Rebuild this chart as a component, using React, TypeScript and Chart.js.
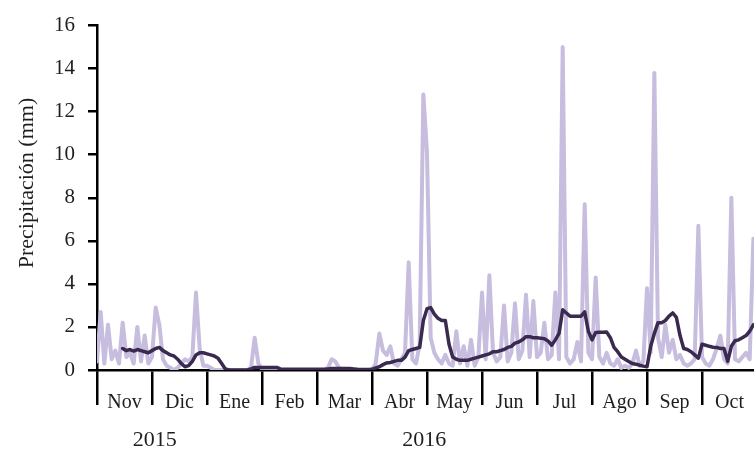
import React, { useEffect, useRef } from 'react';
import { Chart, registerables } from 'chart.js';

Chart.register(...registerables);

// Month labels and years
const meses = ['Nov', 'Dic', 'Ene', 'Feb', 'Mar', 'Abr', 'May', 'Jun', 'Jul', 'Ago', 'Sep', 'Oct'];
const anios = ['2015', '2016'];
const posAnios = [1.05, 5.95];
const tituloY = 'Precipitación (mm)';

// Daily precipitation (every ~2 days), per month
const lluviaNov = [0.4, 2.7, 0.3, 2.1, 0.5, 0.9, 0.3, 2.2, 0.6, 0.8, 0.3, 2.0, 0.4, 1.6, 0.3];
const lluviaDic = [0.6, 2.9, 2.1, 0.5, 0.2, 0.1, 0.0, 0.1, 0.3, 0.5, 0.4, 0.6, 3.6, 1.0, 0.2];
const lluviaEne = [0.2, 0.1, 0, 0, 0, 0, 0, 0, 0, 0, 0, 0, 0.1, 1.5, 0.3];
const lluviaFeb = [0.05, 0, 0, 0, 0, 0, 0, 0, 0, 0, 0, 0, 0, 0, 0];
const lluviaMar = [0, 0, 0, 0.1, 0.5, 0.4, 0.1, 0, 0, 0, 0, 0, 0, 0, 0];
const lluviaAbr = [0, 0.3, 1.7, 0.9, 0.7, 1.1, 0.3, 0.2, 0.5, 0.8, 5.0, 0.5, 0.3, 1.2, 12.8];
const lluviaMay = [10.1, 1.5, 0.8, 0.5, 0.3, 0.7, 0.3, 0.2, 1.8, 0.3, 1.1, 0.2, 1.4, 0.2, 0.6];
const lluviaJun = [3.6, 0.5, 4.4, 0.8, 0.4, 0.6, 3.0, 0.4, 0.8, 3.1, 0.5, 0.9, 3.5, 0.6, 3.2];
const lluviaJul = [0.6, 0.8, 2.2, 0.5, 0.7, 3.6, 0.5, 15.0, 0.6, 0.3, 0.5, 1.3, 0.4, 7.7, 0.8];
const lluviaAgo = [0.5, 4.3, 0.6, 0.3, 0.8, 0.3, 0.2, 0.5, 0.1, 0.2, 0.1, 0.3, 0.9, 0.2, 0.4];
const lluviaSep = [3.8, 0.8, 13.8, 1.5, 0.6, 2.1, 0.8, 1.4, 0.5, 0.7, 0.3, 0.2, 0.3, 0.5, 6.7];
const lluviaOct = [0.6, 0.3, 0.2, 0.5, 1.0, 1.6, 0.5, 0.3, 8.0, 0.5, 0.4, 0.6, 0.8, 0.5, 6.1];

// Moving average, per month
const mediaNov = [null, null, null, null, null, null, null, 1.0, 0.9, 0.95, 0.88, 0.95, 0.9, 0.85, 0.8];
const mediaDic = [0.9, 1.0, 1.05, 0.9, 0.8, 0.7, 0.65, 0.5, 0.3, 0.15, 0.2, 0.4, 0.7, 0.8, 0.8];
const mediaEne = [0.75, 0.7, 0.65, 0.55, 0.3, 0.05, 0.0, 0, 0, 0, 0, 0, 0.05, 0.12, 0.12];
const mediaFeb = [0.12, 0.12, 0.12, 0.12, 0.12, 0.05, 0.03, 0.03, 0.03, 0.03, 0.03, 0.03, 0.03, 0.03, 0.03];
const mediaMar = [0.03, 0.03, 0.03, 0.05, 0.07, 0.07, 0.07, 0.07, 0.07, 0.07, 0.05, 0.03, 0.02, 0.02, 0.02];
const mediaAbr = [0.03, 0.1, 0.15, 0.25, 0.33, 0.35, 0.4, 0.45, 0.45, 0.6, 0.9, 0.95, 1.0, 1.05, 2.3];
const mediaMay = [2.85, 2.9, 2.6, 2.4, 2.3, 2.3, 1.2, 0.6, 0.5, 0.45, 0.45, 0.45, 0.5, 0.55, 0.6];
const mediaJun = [0.65, 0.7, 0.75, 0.85, 0.85, 0.9, 0.95, 1.05, 1.1, 1.25, 1.3, 1.4, 1.55, 1.55, 1.5];
const mediaJul = [1.5, 1.48, 1.45, 1.35, 1.15, 1.4, 1.7, 2.8, 2.65, 2.5, 2.5, 2.5, 2.5, 2.7, 1.8];
const mediaAgo = [1.4, 1.74, 1.75, 1.75, 1.76, 1.5, 1.05, 0.85, 0.6, 0.5, 0.4, 0.3, 0.27, 0.22, 0.18];
const mediaSep = [0.15, 1.1, 1.7, 2.2, 2.2, 2.3, 2.5, 2.65, 2.45, 1.6, 1.0, 0.95, 0.85, 0.7, 0.55];
const mediaOct = [1.2, 1.15, 1.1, 1.06, 1.05, 1.0, 1.0, 0.4, 1.1, 1.36, 1.4, 1.5, 1.6, 1.8, 2.1];

const lluvia = [lluviaNov, lluviaDic, lluviaEne, lluviaFeb, lluviaMar, lluviaAbr, lluviaMay, lluviaJun, lluviaJul, lluviaAgo, lluviaSep, lluviaOct];
const media = [mediaNov, mediaDic, mediaEne, mediaFeb, mediaMar, mediaAbr, mediaMay, mediaJun, mediaJul, mediaAgo, mediaSep, mediaOct];

const toPoints = (series: (number | null)[][]) =>
  series.flatMap((arr, m) => arr.map((v, i) => ({ x: m + i / arr.length, y: v })));

const FONT = '"Liberation Serif", "Times New Roman", serif';
const TEXT = '#1e1e1e';

const textPlugin = {
  id: 'textos',
  afterDraw(chart: any) {
    const { ctx } = chart;
    const x = chart.scales.x;
    ctx.save();
    ctx.fillStyle = TEXT;
    ctx.textAlign = 'center';
    ctx.textBaseline = 'middle';
    ctx.font = `20px ${FONT}`;
    meses.forEach((m, i) => ctx.fillText(m, x.getPixelForValue(i + 0.5), 403));
    ctx.font = `22px ${FONT}`;
    anios.forEach((a, i) => ctx.fillText(a, x.getPixelForValue(posAnios[i]), 440));
    ctx.translate(27, 183);
    ctx.rotate(-Math.PI / 2);
    ctx.fillText(tituloY, 0, 0);
    ctx.restore();
  },
};

export default function App() {
  const ref = useRef<HTMLCanvasElement | null>(null);
  useEffect(() => {
    if (!ref.current) return;
    const chart = new Chart(ref.current, {
      type: 'line',
      data: {
        datasets: [
          {
            label: 'Media',
            data: toPoints(media) as any,
            borderColor: 'rgb(58, 42, 80)',
            borderWidth: 3.5,
            pointRadius: 0,
            tension: 0,
            borderJoinStyle: 'round',
            borderCapStyle: 'round',
            spanGaps: false,
          },
          {
            label: 'Diaria',
            data: toPoints(lluvia) as any,
            borderColor: 'rgb(199, 189, 222)',
            borderWidth: 4,
            pointRadius: 0,
            tension: 0,
            borderJoinStyle: 'round',
            borderCapStyle: 'round',
          },
        ],
      },
      options: {
        animation: false,
        responsive: false,
        events: [],
        layout: { padding: { top: 18, left: 0, right: 0, bottom: 0 } },
        plugins: { legend: { display: false }, tooltip: { enabled: false } },
        scales: {
          x: {
            type: 'linear',
            min: 0,
            max: 11.945,
            afterBuildTicks: (s: any) => {
              s.ticks = meses.map((_, i) => ({ value: i }));
            },
            afterFit: (s: any) => {
              s.height = 81;
            },
            ticks: { display: false },
            grid: { drawOnChartArea: false, tickLength: 35, color: '#000', lineWidth: 2.5 },
            border: { color: '#000', width: 2.5 },
          },
          y: {
            min: 0,
            max: 16,
            afterFit: (s: any) => {
              s.width = 97;
            },
            ticks: { stepSize: 2, padding: 13, color: TEXT, font: { family: FONT, size: 21 } },
            grid: { drawOnChartArea: false, tickLength: 9, color: '#000', lineWidth: 2.5 },
            border: { color: '#000', width: 2.5 },
          },
        },
      },
      plugins: [textPlugin],
    });
    return () => chart.destroy();
  }, []);
  return (
    <div style={{ position: 'fixed', left: 0, top: 0, width: 754, height: 451, background: '#fff' }}>
      <canvas ref={ref} width={754} height={451} style={{ display: 'block' }} />
    </div>
  );
}
